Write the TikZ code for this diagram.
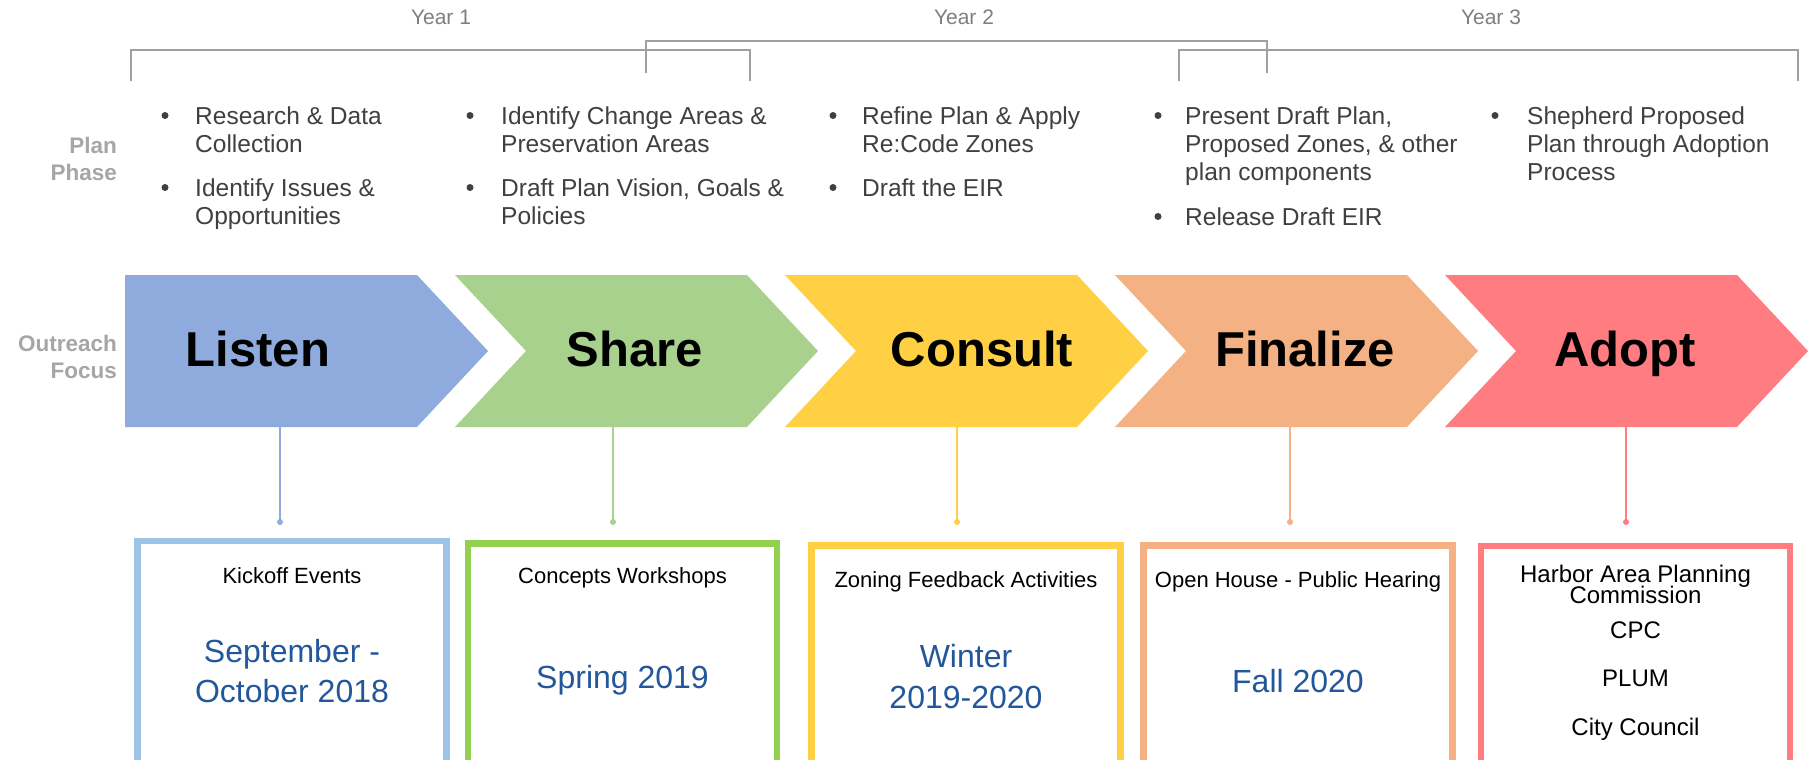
\documentclass[tikz,border=0pt]{standalone}
\usepackage{fontspec}
\setmainfont{Liberation Sans}
\definecolor{clisten}{HTML}{8FAADC}
\definecolor{cshare}{HTML}{A9D18E}
\definecolor{cconsult}{HTML}{FFD043}
\definecolor{cfinal}{HTML}{F4B183}
\definecolor{cadopt}{HTML}{FF7C80}
\definecolor{bxlisten}{HTML}{9DC3E6}
\definecolor{bxshare}{HTML}{92D050}
\definecolor{bulgray}{HTML}{404040}
\definecolor{yeargray}{HTML}{7F7F7F}
\definecolor{sidegray}{HTML}{A6A6A6}
\definecolor{brgray}{HTML}{A0A0A0}
\definecolor{dateblue}{HTML}{23579B}
\tikzset{
 yearlbl/.style={font=\fontsize{21}{25}\selectfont, text=yeargray, anchor=base, inner sep=0},
 sidelbl/.style={font=\bfseries\fontsize{22.5}{27}\selectfont, text=sidegray, anchor=base east, inner sep=0},
 bultext/.style={font=\fontsize{24.5}{28}\selectfont, text=bulgray, anchor=base west, inner sep=0},
 bulldot/.style={circle, fill=bulgray, inner sep=0, minimum size=7},
 chevlbl/.style={font=\bfseries\fontsize{49}{58}\selectfont, text=black, anchor=base, inner sep=0},
 boxtitle/.style={font=\fontsize{22}{26}\selectfont, text=black, anchor=base, inner sep=0},
 datetext/.style={font=\fontsize{32}{38}\selectfont, text=dateblue, anchor=base, inner sep=0},
 govtext/.style={font=\fontsize{24}{28}\selectfont, text=black, anchor=base, inner sep=0},
 bracket/.style={draw=brgray, line width=2.5},
 evbox/.style={draw, fill=white, line width=6.5, minimum width=309, minimum height=300, anchor=north, inner sep=0},
 link/.style={line width=2},
 linkdot/.style={circle, inner sep=0, minimum size=6},
}
\begin{document}
\begin{tikzpicture}[x=1pt,y=-1pt]
\useasboundingbox (0,0) rectangle (1810,760);
\clip (0,0) rectangle (1810,760);
\fill[white] (0,0) rectangle (1810,760);

% year brackets
\draw[bracket] (131,81) -- (131,50) -- (750,50) -- (750,81);
\draw[bracket] (646,73) -- (646,41) -- (1267,41) -- (1267,73);
\draw[bracket] (1179,81) -- (1179,50) -- (1798,50) -- (1798,81);
\node[yearlbl] (y1) at (441,25) {Year 1};
\node[yearlbl] (y2) at (964,25) {Year 2};
\node[yearlbl] (y3) at (1491,25) {Year 3};

% side labels
\node[sidelbl] (pp1) at (117,153) {Plan};
\node[sidelbl] (pp2) at (117,180) {Phase};
\node[sidelbl] (of1) at (117,351) {Outreach};
\node[sidelbl] (of2) at (117,378) {Focus};

% plan phase bullets
\node[bulldot] (b11) at (165,115.5) {};
\node[bultext] (t111) at (195,124) {Research \& Data};
\node[bultext] (t112) at (195,152) {Collection};
\node[bulldot] (b12) at (165,187.5) {};
\node[bultext] (t121) at (195,196) {Identify Issues \&};
\node[bultext] (t122) at (195,224) {Opportunities};

\node[bulldot] (b21) at (470,115.5) {};
\node[bultext] (t211) at (501,124) {Identify Change Areas \&};
\node[bultext] (t212) at (501,152) {Preservation Areas};
\node[bulldot] (b22) at (470,187.5) {};
\node[bultext] (t221) at (501,196) {Draft Plan Vision, Goals \&};
\node[bultext] (t222) at (501,224) {Policies};

\node[bulldot] (b31) at (833,115.5) {};
\node[bultext] (t311) at (862,124) {Refine Plan \& Apply};
\node[bultext] (t312) at (862,152) {Re:Code Zones};
\node[bulldot] (b32) at (833,187.5) {};
\node[bultext] (t321) at (862,196) {Draft the EIR};

\node[bulldot] (b41) at (1158,115.5) {};
\node[bultext] (t411) at (1185,124) {Present Draft Plan,};
\node[bultext] (t412) at (1185,152) {Proposed Zones, \& other};
\node[bultext] (t413) at (1185,180) {plan components};
\node[bulldot] (b42) at (1158,216.5) {};
\node[bultext] (t421) at (1185,225) {Release Draft EIR};

\node[bulldot] (b51) at (1495,115.5) {};
\node[bultext] (t511) at (1527,124) {Shepherd Proposed};
\node[bultext] (t512) at (1527,152) {Plan through Adoption};
\node[bultext] (t513) at (1527,180) {Process};

% chevrons
\fill[clisten] (125,275) -- (417,275) -- (488,351) -- (417,427) -- (125,427) -- cycle;
\fill[cshare] (455,275) -- (747,275) -- (818,351) -- (747,427) -- (455,427) -- (526,351) -- cycle;
\fill[cconsult] (785,275) -- (1077,275) -- (1148,351) -- (1077,427) -- (785,427) -- (856,351) -- cycle;
\fill[cfinal] (1115,275) -- (1407,275) -- (1478,351) -- (1407,427) -- (1115,427) -- (1186,351) -- cycle;
\fill[cadopt] (1445,275) -- (1737,275) -- (1808,351) -- (1737,427) -- (1445,427) -- (1516,351) -- cycle;
\node[chevlbl] (listen) at (258,366) {Listen};
\node[chevlbl] (share) at (635,366) {Share};
\node[chevlbl] (consult) at (982,366) {Consult};
\node[chevlbl] (finalize) at (1305,366) {Finalize};
\node[chevlbl] (adopt) at (1625,366) {Adopt};

% connectors
\coordinate (c1) at (280,427);
\coordinate (c2) at (613,427);
\coordinate (c3) at (957,427);
\coordinate (c4) at (1290,427);
\coordinate (c5) at (1626,427);
\node[linkdot, fill=clisten] (d1) at (280,522) {};
\node[linkdot, fill=cshare] (d2) at (613,522) {};
\node[linkdot, fill=cconsult] (d3) at (957,522) {};
\node[linkdot, fill=cfinal] (d4) at (1290,522) {};
\node[linkdot, fill=cadopt] (d5) at (1626,522) {};
\draw[link, clisten] (c1) -- (d1.center);
\draw[link, cshare] (c2) -- (d2.center);
\draw[link, cconsult] (c3) -- (d3.center);
\draw[link, cfinal] (c4) -- (d4.center);
\draw[link, cadopt] (c5) -- (d5.center);

% event boxes
\node[evbox, draw=bxlisten] (box1) at (292,537.5) {};
\node[evbox, draw=bxshare] (box2) at (622.5,540) {};
\node[evbox, draw=cconsult] (box3) at (966,542) {};
\node[evbox, draw=cfinal] (box4) at (1298,542) {};
\node[evbox, draw=cadopt] (box5) at (1635.5,542.5) {};

\node[boxtitle] (k1) at (292,583) {Kickoff Events};
\node[datetext] (k2) at (292,662) {September -};
\node[datetext] (k3) at (292,702) {October 2018};

\node[boxtitle] (s1) at (622.5,583) {Concepts Workshops};
\node[datetext] (s2) at (622.5,688) {Spring 2019};

\node[boxtitle] (z1) at (966,587) {Zoning Feedback Activities};
\node[datetext] (z2) at (966,667) {Winter};
\node[datetext] (z3) at (966,708) {2019-2020};

\node[boxtitle] (o1) at (1298,587) {Open House - Public Hearing};
\node[datetext] (o2) at (1298,692) {Fall 2020};

\node[govtext] (h1) at (1635.5,582) {Harbor Area Planning};
\node[govtext] (h2) at (1635.5,603) {Commission};
\node[govtext] (h3) at (1635.5,638) {CPC};
\node[govtext] (h4) at (1635.5,686) {PLUM};
\node[govtext] (h5) at (1635.5,735) {City Council};
\end{tikzpicture}
\end{document}
